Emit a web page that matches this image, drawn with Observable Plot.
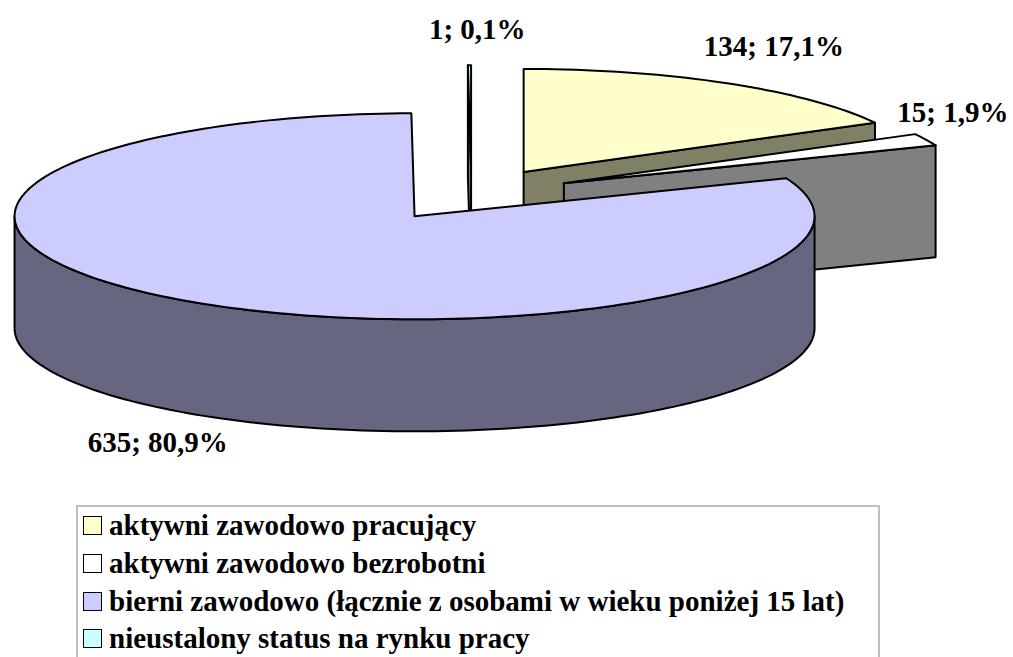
<!DOCTYPE html>
<html><head><meta charset="utf-8">
<script src="https://cdn.jsdelivr.net/npm/d3@7"></script>
<script src="https://cdn.jsdelivr.net/npm/@observablehq/plot@0.6"></script>
<style>
html,body{margin:0;padding:0;background:#fff;}
body{width:1013px;height:657px;overflow:hidden;position:relative;font-family:"Liberation Serif","Times New Roman",Times,"Nimbus Roman","DejaVu Serif",serif;}
#chart{position:absolute;left:0;top:0;}
#legend{position:absolute;left:76px;top:505px;width:804px;height:220px;border:2px solid #c0c0c0;box-sizing:border-box;padding:0 0 0 5px;}
.item{display:flex;align-items:center;font-weight:bold;font-size:29px;height:37.7px;color:#000;white-space:nowrap;font-family:"Liberation Serif","Times New Roman",Times,"Nimbus Roman","DejaVu Serif",serif;}
.sw{width:17px;height:17px;border:1.5px solid #000;margin-right:7px;flex:none;}
</style></head><body>
<div id="chart"></div><div id="legend"></div>
<script>
// ---- data ----
const categories = [
  "aktywni zawodowo pracujący",
  "aktywni zawodowo bezrobotni",
  "bierni zawodowo (łącznie z osobami w wieku poniżej 15 lat)",
  "nieustalony status na rynku pracy"
];
const counts = [134, 15, 635, 1];
const topColors = ["#FFFFCC", "#FFFFFF", "#CCCCFF", "#CCFFFF"];
const sideColors = ["#808066", "#808080", "#666680", "#668080"];

// ---- layout ----
const W = 1013, H = 500;
const cx = 471, cy = 194;        // pie centre (pixels)
const A = 400, B = 103, T = 112; // ellipse semi-axes, thickness
const EXPLODE = 0.255;
const FONT_FAMILY = "'Liberation Serif', 'Times New Roman', Times, 'Nimbus Roman', 'DejaVu Serif', serif";
const LABEL_SIZE = 29;

const total = d3.sum(counts);
const fmtPct = v => (v * 100).toFixed(1).replace(".", ",") + "%";

// slices, clockwise from 12 o'clock
let acc = 0;
const slices = counts.map((c, i) => {
  const s = acc / total * 2 * Math.PI;
  acc += c;
  const e = acc / total * 2 * Math.PI;
  const m = (s + e) / 2;
  return {i, c, s, e, m, ou: EXPLODE * Math.sin(m), ov: EXPLODE * Math.cos(m),
          label: `${c}; ${fmtPct(c / total)}`};
});

const P = (sl, th, r, z) => ({
  x: A * (r * Math.sin(th) + sl.ou),
  y: -B * (r * Math.cos(th) + sl.ov) + T * z
});
const arcPts = (sl, t0, t1, z) => {
  const n = Math.max(2, Math.ceil(Math.abs(t1 - t0) / (2 * Math.PI) * 240));
  return d3.range(n + 1).map(k => P(sl, t0 + (t1 - t0) * k / n, 1, z));
};

// faces, painter's order: back slices first
const faces = [];
const order = slices.slice().sort((p, q) => q.ov - p.ov);
order.forEach(sl => {
  const side = sideColors[sl.i], top = topColors[sl.i];
  if (Math.sin(sl.s) < -1e-6)
    faces.push({fill: side, pts: [P(sl, sl.s, 0, 0), P(sl, sl.s, 1, 0), P(sl, sl.s, 1, 1), P(sl, sl.s, 0, 1)]});
  if (Math.sin(sl.e) > 1e-6)
    faces.push({fill: side, pts: [P(sl, sl.e, 0, 0), P(sl, sl.e, 1, 0), P(sl, sl.e, 1, 1), P(sl, sl.e, 0, 1)]});
  const w0 = Math.max(sl.s, Math.PI / 2), w1 = Math.min(sl.e, 3 * Math.PI / 2);
  if (w1 > w0)
    faces.push({fill: side, pts: [...arcPts(sl, w0, w1, 0), ...arcPts(sl, w1, w0, 1)]});
  faces.push({fill: top, pts: [P(sl, 0, 0, 0), ...arcPts(sl, sl.s, sl.e, 0)]});
});
const rows = faces.flatMap((f, id) => f.pts.map(p => ({id, fill: f.fill, x: p.x, y: p.y})));

// labels (outside each slice, kept inside the chart area)
const ctx = document.createElement("canvas").getContext("2d");
ctx.font = `bold ${LABEL_SIZE}px ${FONT_FAMILY}`;
const labels = slices.map(sl => {
  const w = ctx.measureText(sl.label).width, hh = LABEL_SIZE / 2;
  const sm = Math.sin(sl.m), cm = Math.cos(sl.m);
  let x = A * (sl.ou + 1.0 * sm) + 1.06 * sm * w / 2 + 8;
  let y = -B * (sl.ov + 1.2 * cm) - cm * hh + (cm < 0 ? T : -sm * hh * 0.9);
  x = Math.min(x, W - cx - 5 - w / 2);
  x = Math.max(x, -cx + 5 + w / 2);
  return {x, y, text: sl.label};
});

const chart = Plot.plot({
  width: W, height: H, margin: 0,
  style: {fontFamily: FONT_FAMILY},
  x: {domain: [-cx, W - cx], range: [0, W], axis: null},
  y: {domain: [-cy, H - cy], range: [0, H], axis: null},
  color: {type: "identity"},
  marks: [
    Plot.line(rows, {x: "x", y: "y", z: "id", fill: "fill", stroke: "#000", strokeWidth: 2, curve: "linear-closed"}),
    Plot.text(labels, {x: "x", y: "y", text: "text", fontSize: LABEL_SIZE, fontWeight: "bold",
      fontFamily: FONT_FAMILY, fill: "#000", textAnchor: "middle", lineAnchor: "middle"})
  ]
});
document.getElementById("chart").appendChild(chart);

const legend = document.getElementById("legend");
categories.forEach((c, i) => {
  const it = document.createElement("div");
  it.className = "item";
  it.innerHTML = `<span class="sw" style="background:${topColors[i]}"></span><span>${c}</span>`;
  legend.appendChild(it);
});
</script>
</body></html>
